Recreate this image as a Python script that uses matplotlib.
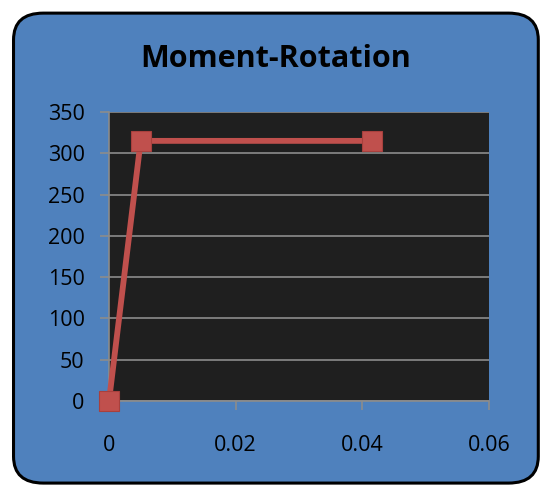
import matplotlib.pyplot as plt
from matplotlib.patches import FancyBboxPatch

# Moment-rotation points
rotation = [0, 0.005, 0.0415]
moment = [0, 315, 315]

x_ticks = [0, 0.02, 0.04, 0.06]
x_labels = ['0', '0.02', '0.04', '0.06']
y_ticks = [0, 50, 100, 150, 200, 250, 300, 350]

plt.rcParams['font.family'] = ['Open Sans', 'DejaVu Sans']

fig = plt.figure(figsize=(5.41, 4.86), dpi=100)
fig.patch.set_facecolor('white')

# rounded chart frame, kept behind the axes
frame = FancyBboxPatch((0.025, 0.006), 0.97, 0.967,
                       boxstyle='round,pad=0,rounding_size=0.055',
                       transform=fig.transFigure, facecolor='#4F81BD',
                       edgecolor='black', linewidth=2.2, zorder=-5)
fig.patches.append(frame)

ax = fig.add_axes([0.2015, 0.175, 0.7024, 0.5946])
ax.set_facecolor('#1F1F1F')

ax.plot(rotation, moment, color='#C0504D', linewidth=4.2, marker='s',
        markersize=14, markerfacecolor='#C0504D', markeredgecolor='#A8403D',
        markeredgewidth=0.8, clip_on=False, zorder=3)

ax.set_xlim(0, 0.06)
ax.set_ylim(0, 350)
ax.set_xticks(x_ticks)
ax.set_xticklabels(x_labels)
ax.set_yticks(y_ticks)

ax.grid(axis='y', color='#8C8C8C', linewidth=1.2)
ax.set_axisbelow(True)
for side in ['top', 'right']:
    ax.spines[side].set_visible(False)
for side in ['left', 'bottom']:
    ax.spines[side].set_color('#8C8C8C')
    ax.spines[side].set_linewidth(1.2)

ax.tick_params(axis='both', colors='#8C8C8C', labelcolor='black',
               labelsize=15.5, length=6.5, width=1.2)
ax.tick_params(axis='x', pad=18)
ax.tick_params(axis='y', pad=11)

fig.text(0.51, 0.878, 'Moment-Rotation', ha='center', va='center',
         fontsize=22, fontweight='bold', color='black')

fig.savefig('out.png', dpi=100)
